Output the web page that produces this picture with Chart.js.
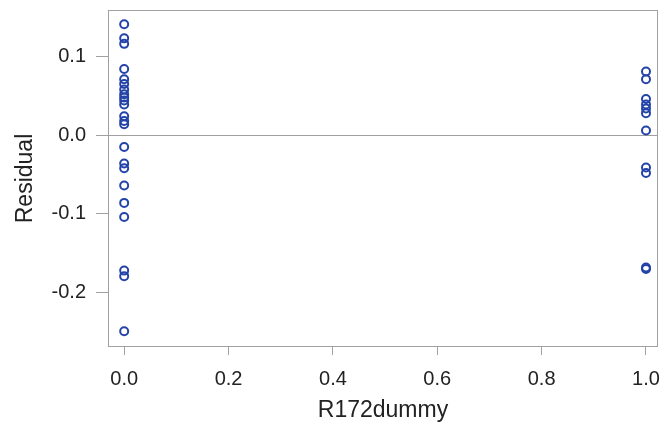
<!DOCTYPE html>
<html>
<head>
<meta charset="utf-8">
<script src="https://cdn.jsdelivr.net/npm/chart.js@4.4.1/dist/chart.umd.min.js"></script>
<style>
  html, body { margin: 0; padding: 0; background: #fff; }
  #wrap { width: 660px; height: 433px; position: relative; }
</style>
</head>
<body>
<div id="wrap"><canvas id="grafico"></canvas></div>
<script>
// residuos
var residuosDummy0 = [0.141, 0.123, 0.116, 0.084, 0.071, 0.065, 0.058, 0.052, 0.048, 0.044, 0.039,
	0.024, 0.018, 0.014, -0.015, -0.036, -0.042, -0.064, -0.086, -0.104, -0.172, -0.179, -0.249];
var residuosDummy1 = [0.081, 0.071, 0.046, 0.039, 0.034, 0.028, 0.006, -0.041, -0.048, -0.168, -0.170];
var valoresDummy = [0, 1];
var tituloX = 'R172dummy';
var tituloY = 'Residual';

var corPonto = '#2443a8';
var corEixo = '#a0a0a0';
var fonte = '"Liberation Sans", Arial, sans-serif';

var pontos = [];
residuosDummy0.forEach(v => pontos.push({ x: valoresDummy[0], y: v }));
residuosDummy1.forEach(v => pontos.push({ x: valoresDummy[1], y: v }));

// moldura em volta da area do grafico
var moldura = {
	id: 'moldura',
	afterDraw: function(chart) {
		var a = chart.chartArea, c = chart.ctx;
		c.save();
		c.strokeStyle = corEixo;
		c.lineWidth = 1;
		c.strokeRect(a.left + 0.5, a.top + 0.5, a.right - a.left - 1, a.bottom - a.top - 1);
		c.restore();
	}
};

new Chart(document.getElementById('grafico').getContext('2d'), {
	type: 'scatter',
	data: {
		datasets: [{
			data: pontos,
			borderColor: corPonto,
			backgroundColor: 'transparent',
			borderWidth: 2,
			pointRadius: 4,
			pointHoverRadius: 4
		}]
	},
	options: {
		responsive: true,
		maintainAspectRatio: false,
		animation: false,
		layout: { autoPadding: false, padding: { left: 0, right: 2, top: 10, bottom: 0 } },
		plugins: { legend: { display: false }, tooltip: { enabled: false } },
		scales: {
			x: {
				type: 'linear',
				min: -0.031,
				max: 1.023,
				afterFit: function(s) { s.height = 86; s.paddingLeft = 0; s.paddingRight = 0; },
				border: { display: false },
				grid: { drawOnChartArea: false, tickLength: 8, tickColor: corEixo },
				ticks: {
					stepSize: 0.2,
					includeBounds: false,
					padding: 12,
					color: '#222',
					font: { family: fonte, size: 20 },
					callback: v => v.toFixed(1)
				},
				title: {
					display: true,
					text: tituloX,
					color: '#222',
					font: { family: fonte, size: 23 },
					padding: { top: 0, bottom: 9 }
				}
			},
			y: {
				type: 'linear',
				min: -0.269,
				max: 0.159,
				afterFit: function(s) { s.width = 108; s.paddingTop = 0; s.paddingBottom = 0; },
				border: { display: false },
				grid: {
					drawOnChartArea: true,
					color: c => (c.tick && Math.abs(c.tick.value) < 1e-9) ? corEixo : 'transparent',
					tickColor: corEixo,
					tickLength: 12
				},
				ticks: {
					stepSize: 0.1,
					includeBounds: false,
					padding: 10,
					color: '#222',
					font: { family: fonte, size: 20 },
					callback: v => (Math.abs(v) < 1e-9 ? 0 : v).toFixed(1)
				},
				title: {
					display: true,
					text: tituloY,
					color: '#222',
					font: { family: fonte, size: 23 },
					padding: { top: 12, bottom: 0 }
				}
			}
		}
	},
	plugins: [moldura]
});
</script>
</body>
</html>
